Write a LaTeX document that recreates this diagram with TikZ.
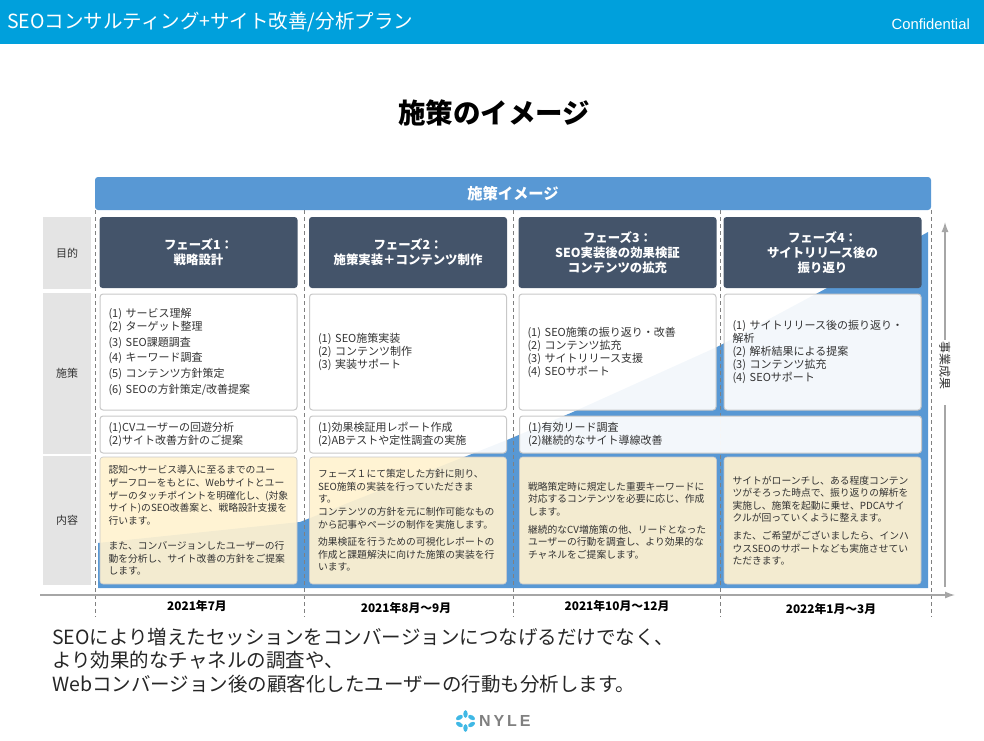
\documentclass[tikz,border=0pt]{standalone}
\usepackage{fontspec}
\setmainfont{Noto Sans CJK JP}
\newfontfamily\latinfont{Liberation Sans}
\newfontfamily\logofont[LetterSpace=18]{Liberation Sans}
\usetikzlibrary{arrows.meta,positioning}
\definecolor{barcyan}{RGB}{0,160,220}
\definecolor{softblue}{RGB}{88,152,212}
\definecolor{darkslate}{RGB}{68,84,106}
\definecolor{softgray}{RGB}{228,228,228}
\definecolor{softyellow}{RGB}{255,242,208}
\definecolor{edgegray}{RGB}{200,200,200}
\definecolor{axisgray}{RGB}{166,166,166}
\definecolor{inkgray}{RGB}{51,51,51}
\tikzset{
  rowlabel/.style={fill=softgray,text=inkgray,inner sep=0pt,minimum width=48pt,font=\fontsize{11}{13}\selectfont},
  phasebox/.style={fill=darkslate,text=white,rounded corners=3pt,align=center,inner sep=0pt,
    minimum width=198pt,minimum height=71pt,font=\fontsize{12.4}{15}\selectfont\bfseries},
  planbox/.style={draw=edgegray,line width=1pt,fill=white,fill opacity=.93,text opacity=1,text=inkgray,
    rounded corners=3pt,align=left,text width=180pt,inner xsep=8.5pt,inner ysep=0pt,
    font=\fontsize{11}{13}\selectfont},
  notebox/.style={draw=edgegray,line width=.6pt,fill=softyellow,fill opacity=.93,text opacity=1,text=inkgray,
    rounded corners=3pt,align=left,text width=180pt,inner xsep=8.5pt,inner ysep=0pt,minimum height=127pt,
    font=\fontsize{9.8}{12.6}\selectfont},
  datelabel/.style={text=black,inner sep=0pt,font=\fontsize{11.8}{13}\selectfont\bfseries},
  axisline/.style={draw=axisgray,line width=1.3pt},
  stagedash/.style={draw=gray,line width=.7pt,dash pattern=on 4pt off 3pt},
}
\begin{document}
\begin{tikzpicture}[x=1pt,y=-1pt]
  \useasboundingbox (0,0) rectangle (984,740);
  \node[fill=barcyan,inner sep=0pt,minimum width=984pt,minimum height=44pt] (topbar) at (492,22) {};
  \node[anchor=west,text=white,inner sep=0pt,font=\fontsize{19.5}{22}\selectfont] (plantitle) at (7,22) {SEOコンサルティング+サイト改善/分析プラン};
  \node[anchor=east,text=white,inner sep=0pt,font=\fontsize{14.8}{17}\latinfont] (confidential) at (970,24) {Confidential};
  \node[inner sep=0pt,font=\fontsize{27.5}{30}\selectfont\bfseries] (pagetitle) at (494,113) {施策のイメージ};

  \fill[softblue] (98,588) -- (98,543) -- (300,522) -- (507,440) -- (573,412) -- (717,347)
    -- (827,288) -- (928,232) -- (928,588) -- cycle;
  \foreach \x in {95,304,513,720,931}
    \draw[stagedash] (\x,210) -- (\x,617);
  \node[fill=softblue,text=white,rounded corners=3pt,inner sep=0pt,minimum width=836pt,minimum height=33pt,
    font=\fontsize{15.3}{17}\selectfont\bfseries] (header) at (513,193.5) {施策イメージ};

  \node[rowlabel,minimum height=72pt] (rowgoal) at (67,253) {目的};
  \node[rowlabel,minimum height=161pt] (rowplan) at (67,373.5) {施策};
  \node[rowlabel,minimum height=129pt] (rowbody) at (67,520.5) {内容};

  \node[phasebox] (phaseA) at (198.5,252.5) {フェーズ1：\\戦略設計};
  \node[phasebox] (phaseB) at (408,252.5) {フェーズ2：\\施策実装＋コンテンツ制作};
  \node[phasebox] (phaseC) at (617.5,252.5) {フェーズ3：\\SEO実装後の効果検証\\コンテンツの拡充};
  \node[phasebox] (phaseD) at (822.5,252.5) {フェーズ4：\\サイトリリース後の\\振り返り};

  \node[planbox,minimum height=116pt] (planA) at (198.5,352) {(1) サービス理解\\(2) ターゲット整理\\[3pt](3) SEO課題調査\\[2pt](4) キーワード調査\\[3pt](5) コンテンツ方針策定\\[3pt](6) SEOの方針策定/改善提案};
  \node[planbox,minimum height=116pt] (planB) at (408,352) {(1) SEO施策実装\\(2) コンテンツ制作\\(3) 実装サポート};
  \node[planbox,minimum height=116pt] (planC) at (617.5,352) {(1) SEO施策の振り返り・改善\\(2) コンテンツ拡充\\(3) サイトリリース支援\\(4) SEOサポート};
  \node[planbox,minimum height=116pt] (planD) at (822.5,352) {(1) サイトリリース後の振り返り・\\解析\\(2) 解析結果による提案\\(3) コンテンツ拡充\\(4) SEOサポート};

  \node[planbox,minimum height=37pt] (taskA) at (198.5,434.5) {(1)CVユーザーの回遊分析\\(2)サイト改善方針のご提案};
  \node[planbox,minimum height=37pt] (taskB) at (408,434.5) {(1)効果検証用レポート作成\\(2)ABテストや定性調査の実施};
  \node[planbox,minimum height=37pt,text width=385pt] (taskC) at (720.5,434.5) {(1)有効リード調査\\(2)継続的なサイト導線改善};

  \node[notebox] (noteA) at (198.5,520.5) {認知～サービス導入に至るまでのユー\\ザーフローをもとに、Webサイトとユー\\ザーのタッチポイントを明確化し、(対象\\サイト)のSEO改善案と、戦略設計支援を\\行います。\\[12.6pt]また、コンバージョンしたユーザーの行\\動を分析し、サイト改善の方針をご提案\\します。};
  \node[notebox] (noteB) at (408,520.5) {フェーズ１にて策定した方針に則り、\\SEO施策の実装を行っていただきま\\す。\\コンテンツの方針を元に制作可能なもの\\から記事やページの制作を実施します。\\[5pt]効果検証を行うための可視化レポートの\\作成と課題解決に向けた施策の実装を行\\います。};
  \node[notebox] (noteC) at (618,520.5) {戦略策定時に規定した重要キーワードに\\対応するコンテンツを必要に応じ、作成\\します。\\[5pt]継続的なCV増施策の他、リードとなった\\ユーザーの行動を調査し、より効果的な\\チャネルをご提案します。};
  \node[notebox] (noteD) at (822.5,520.5) {サイトがローンチし、ある程度コンテン\\ツがそろった時点で、振り返りの解析を\\実施し、施策を起動に乗せ、PDCAサイ\\クルが回っていくように整えます。\\[5pt]また、ご希望がございましたら、インハ\\ウスSEOのサポートなども実施させてい\\ただきます。};

  \coordinate (xfoot) at (40,595);
  \coordinate (xtip) at (955,595);
  \coordinate (yfoot) at (945,587);
  \coordinate (ygap) at (945,405);
  \coordinate (ytip) at (945,222);
  \node[rotate=-90,inner sep=1pt,text=inkgray,font=\fontsize{12}{14}\selectfont] (outcome) at (945,365) {事業成果};
  \draw[axisline,-{Latex[length=10pt,width=7pt]}] (xfoot) -- (xtip);
  \draw[axisline] (yfoot) -- (ygap);
  \draw[axisline,-{Latex[length=10pt,width=7pt]}] (outcome) -- (ytip);

  \node[datelabel] (dateA) at (197,606) {2021年7月};
  \node[datelabel] (dateB) at (406,608) {2021年8月～9月};
  \node[datelabel] (dateC) at (617,606) {2021年10月～12月};
  \node[datelabel] (dateD) at (831,609) {2022年1月～3月};

  \node[anchor=north west,align=left,inner sep=0pt,text=black!85,font=\fontsize{19.5}{23.5}\selectfont] (summary) at (52,627.5)
    {SEOにより増えたセッションをコンバージョンにつなげるだけでなく、\\より効果的なチャネルの調査や、\\Webコンバージョン後の顧客化したユーザーの行動も分析します。};

  \foreach \a in {30,90,...,330}
    \fill[barcyan!75] (465.5,721) ++(\a:7) ellipse [x radius=3.8,y radius=2.2,rotate=\a];
  \node[anchor=west,inner sep=0pt,text=gray,font=\fontsize{16}{18}\logofont\bfseries] (logotext) at (479,721) {NYLE};
\end{tikzpicture}
\end{document}
